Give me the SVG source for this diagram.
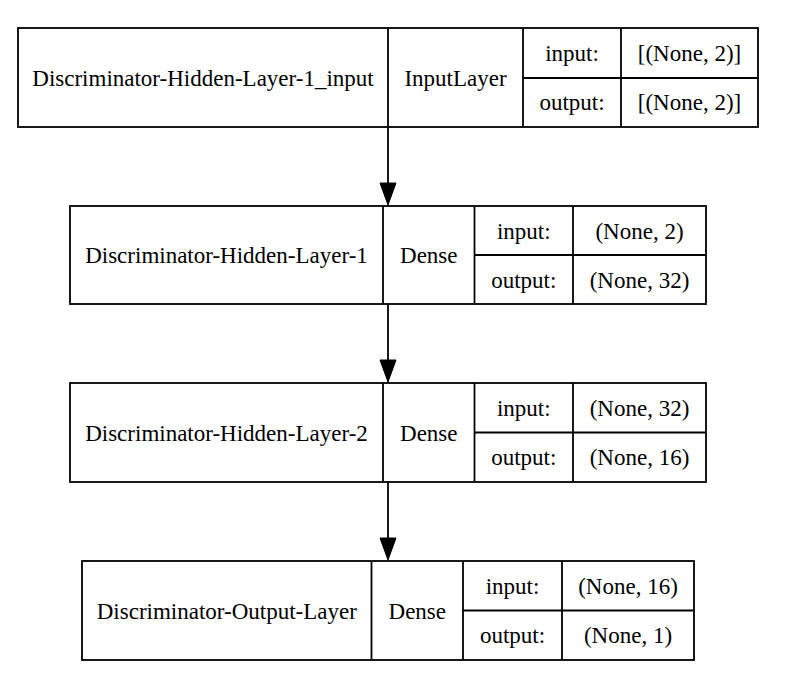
<svg xmlns="http://www.w3.org/2000/svg" width="785" height="673" viewBox="0 0 785 673">
<style>
.b{fill:none;stroke:#000;stroke-width:1.8}
.t{font-family:"Liberation Serif","Times New Roman",serif;font-size:23px;fill:#000;text-anchor:middle}
.c{stroke:#000;stroke-width:1.8;fill:none}
</style>
<defs>
<marker id="ah" markerUnits="userSpaceOnUse" markerWidth="24" markerHeight="18" refX="19" refY="9" orient="auto">
<path d="M1,1 L23,9 L1,17 Z" fill="#000" stroke="#000" stroke-width="1"/>
</marker>
</defs>
<rect width="785" height="673" fill="#fff"/>
<g id="connectors">
<line class="c" x1="388" y1="127" x2="388" y2="201" marker-end="url(#ah)"/>
<line class="c" x1="388" y1="304" x2="388" y2="378" marker-end="url(#ah)"/>
<line class="c" x1="388" y1="482" x2="388" y2="556" marker-end="url(#ah)"/>
</g>
<g id="node1">
<rect class="b" x="18" y="28" width="740" height="99"/>
<line class="b" x1="388" y1="28" x2="388" y2="127"/>
<line class="b" x1="523" y1="28" x2="523" y2="127"/>
<line class="b" x1="621" y1="28" x2="621" y2="127"/>
<line class="b" x1="523" y1="78" x2="758" y2="78"/>
<text class="t" x="203" y="86">Discriminator-Hidden-Layer-1_input</text>
<text class="t" x="455.5" y="86">InputLayer</text>
<text class="t" x="572" y="61">input:</text>
<text class="t" x="572" y="110">output:</text>
<text class="t" x="689.5" y="61">[(None, 2)]</text>
<text class="t" x="689.5" y="110">[(None, 2)]</text>
</g>
<g id="node2">
<rect class="b" x="70" y="206" width="636" height="98"/>
<line class="b" x1="383" y1="206" x2="383" y2="304"/>
<line class="b" x1="474.5" y1="206" x2="474.5" y2="304"/>
<line class="b" x1="573" y1="206" x2="573" y2="304"/>
<line class="b" x1="474.5" y1="255" x2="706" y2="255"/>
<text class="t" x="226.5" y="263">Discriminator-Hidden-Layer-1</text>
<text class="t" x="428.8" y="263">Dense</text>
<text class="t" x="523.8" y="238.5">input:</text>
<text class="t" x="523.8" y="287.5">output:</text>
<text class="t" x="639.5" y="238.5">(None, 2)</text>
<text class="t" x="639.5" y="287.5">(None, 32)</text>
</g>
<g id="node3">
<rect class="b" x="70" y="383" width="636" height="99"/>
<line class="b" x1="383" y1="383" x2="383" y2="482"/>
<line class="b" x1="474.5" y1="383" x2="474.5" y2="482"/>
<line class="b" x1="573" y1="383" x2="573" y2="482"/>
<line class="b" x1="474.5" y1="432.5" x2="706" y2="432.5"/>
<text class="t" x="226.5" y="440.5">Discriminator-Hidden-Layer-2</text>
<text class="t" x="428.8" y="440.5">Dense</text>
<text class="t" x="523.8" y="416">input:</text>
<text class="t" x="523.8" y="465">output:</text>
<text class="t" x="639.5" y="416">(None, 32)</text>
<text class="t" x="639.5" y="465">(None, 16)</text>
</g>
<g id="node4">
<rect class="b" x="82" y="561" width="612" height="99"/>
<line class="b" x1="371.5" y1="561" x2="371.5" y2="660"/>
<line class="b" x1="463" y1="561" x2="463" y2="660"/>
<line class="b" x1="562" y1="561" x2="562" y2="660"/>
<line class="b" x1="463" y1="610.5" x2="694" y2="610.5"/>
<text class="t" x="226.8" y="618.5">Discriminator-Output-Layer</text>
<text class="t" x="417.3" y="618.5">Dense</text>
<text class="t" x="512.5" y="594">input:</text>
<text class="t" x="512.5" y="643">output:</text>
<text class="t" x="628" y="594">(None, 16)</text>
<text class="t" x="628" y="643">(None, 1)</text>
</g>
</svg>
